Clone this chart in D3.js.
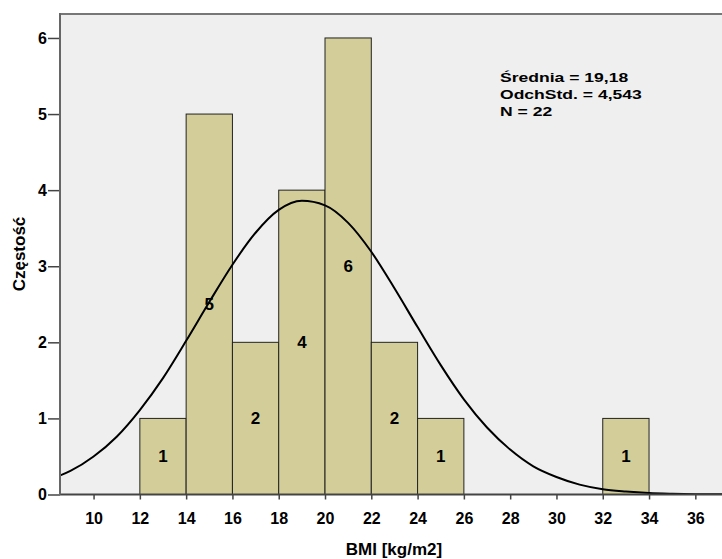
<!DOCTYPE html>
<html lang="pl">
<head>
    <meta charset="UTF-8">
    <title>Histogram BMI</title>
    <script src="https://cdn.jsdelivr.net/npm/d3@7/dist/d3.min.js"></script>
    <style>
        body { margin: 0; background: #fff; font-family: Arial, "Liberation Sans", sans-serif; }
        svg { display: block; }
        .tick text { font-size: 16px; font-weight: bold; fill: #000; font-family: Arial, "Liberation Sans", sans-serif; }
        .bar-label { font-size: 17px; font-weight: bold; text-anchor: middle; dominant-baseline: central; }
        .axis-title { font-size: 17px; font-weight: bold; }
        .stats { font-size: 13.5px; font-weight: bold; }
    </style>
</head>
<body>
<svg id="chart"></svg>
<script>
    // Histogram bins (lower edge, upper edge, count)
    const binStart = [12, 14, 16, 18, 20, 22, 24, 32];
    const binEnd   = [14, 16, 18, 20, 22, 24, 26, 34];
    const counts   = [1, 5, 2, 4, 6, 2, 1, 1];

    // Normal curve (x in BMI, y in frequency)
    const curveX = [8, 9, 10, 11, 12, 13, 14, 15, 16, 17, 18, 19, 20, 21, 22, 23,
                    24, 25, 26, 27, 28, 29, 30, 31, 32, 33, 34, 35, 36, 37, 38];
    const curveY = [0.19, 0.31, 0.50, 0.76, 1.11, 1.53, 2.02, 2.53, 3.02, 3.44, 3.74, 3.86, 3.80, 3.57, 3.19, 2.71,
                    2.20, 1.70, 1.25, 0.88, 0.59, 0.37, 0.23, 0.13, 0.07, 0.04, 0.02, 0.01, 0.004, 0.002, 0.001];

    const xTicks = [10, 12, 14, 16, 18, 20, 22, 24, 26, 28, 30, 32, 34, 36];
    const yTicks = [0, 1, 2, 3, 4, 5, 6];
    const statsLines = ["Średnia = 19,18", "OdchStd. = 4,543", "N = 22"];

    const W = 722, H = 559;
    const plotLeft = 60, plotTop = 14, plotBottom = 494.5, plotRight = 740;

    const svg = d3.select("#chart").attr("width", W).attr("height", H);

    const x = d3.scaleLinear().domain([8.55, 37.93]).range([plotLeft, plotRight]);
    const y = d3.scaleLinear().domain([0, 6.315]).range([plotBottom, plotTop]);

    // plot background
    svg.append("rect")
        .attr("x", plotLeft).attr("y", plotTop)
        .attr("width", plotRight - plotLeft).attr("height", plotBottom - plotTop)
        .attr("fill", "#efefef");

    svg.append("defs").append("clipPath").attr("id", "plot-clip")
        .append("rect")
        .attr("x", plotLeft).attr("y", plotTop)
        .attr("width", plotRight - plotLeft).attr("height", plotBottom - plotTop);

    // bars
    const bars = binStart.map((s, i) => ({ s: s, e: binEnd[i], n: counts[i] }));
    svg.append("g").selectAll("rect")
        .data(bars)
        .enter()
        .append("rect")
        .attr("x", d => x(d.s))
        .attr("y", d => y(d.n))
        .attr("width", d => x(d.e) - x(d.s))
        .attr("height", d => y(0) - y(d.n))
        .attr("fill", "#d3ce99")
        .attr("stroke", "#222")
        .attr("stroke-width", 1);

    // normal curve
    const line = d3.line()
        .x((d, i) => x(curveX[i]))
        .y(d => y(d))
        .curve(d3.curveMonotoneX);

    svg.append("path")
        .attr("clip-path", "url(#plot-clip)")
        .attr("d", line(curveY))
        .attr("fill", "none")
        .attr("stroke", "#000")
        .attr("stroke-width", 2);

    // bar labels
    svg.append("g").selectAll("text")
        .data(bars)
        .enter()
        .append("text")
        .attr("class", "bar-label")
        .attr("x", d => x((d.s + d.e) / 2))
        .attr("y", d => y(d.n / 2))
        .text(d => d.n);

    // frame (top)
    svg.append("line")
        .attr("x1", plotLeft).attr("x2", W).attr("y1", plotTop).attr("y2", plotTop)
        .attr("stroke", "#777").attr("stroke-width", 2);

    // x axis
    const xAxis = svg.append("g")
        .attr("transform", `translate(0,${plotBottom})`)
        .call(d3.axisBottom(x).tickValues(xTicks).tickSize(5).tickPadding(13).tickFormat(d3.format("d")));
    xAxis.select(".domain").remove();
    xAxis.selectAll(".tick line").attr("stroke", "#444").attr("stroke-width", 1.5);
    svg.append("line")
        .attr("x1", plotLeft).attr("x2", W).attr("y1", plotBottom).attr("y2", plotBottom)
        .attr("stroke", "#444").attr("stroke-width", 2);

    // y axis
    const yAxis = svg.append("g")
        .attr("transform", `translate(${plotLeft},0)`)
        .call(d3.axisLeft(y).tickValues(yTicks).tickSize(12).tickPadding(1).tickFormat(d3.format("d")));
    yAxis.select(".domain").remove();
    yAxis.selectAll(".tick line").attr("stroke", "#444").attr("stroke-width", 1.5);
    svg.append("line")
        .attr("x1", plotLeft).attr("x2", plotLeft).attr("y1", plotTop - 1).attr("y2", plotBottom)
        .attr("stroke", "#666").attr("stroke-width", 2);

    // axis titles
    svg.append("text")
        .attr("class", "axis-title")
        .attr("x", 394).attr("y", 555)
        .attr("text-anchor", "middle")
        .text("BMI [kg/m2]");

    svg.append("text")
        .attr("class", "axis-title")
        .attr("transform", "translate(25,254) rotate(-90)")
        .attr("text-anchor", "middle")
        .text("Częstość");

    // statistics box (SPSS draws it in a wide face, hence the horizontal stretch)
    svg.append("g")
        .attr("transform", "translate(500,0) scale(1.3,1)")
        .selectAll("text")
        .data(statsLines)
        .enter()
        .append("text")
        .attr("class", "stats")
        .attr("x", 0)
        .attr("y", (d, i) => 82 + i * 17)
        .text(d => d);
</script>
</body>
</html>
